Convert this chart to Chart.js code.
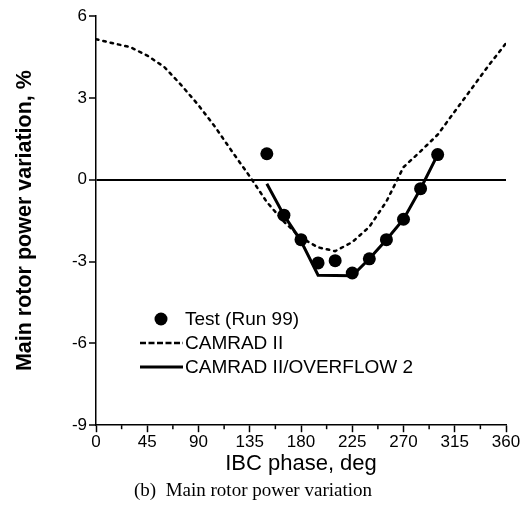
<!DOCTYPE html>
<html>
<head>
<meta charset="utf-8">
<script src="https://cdn.jsdelivr.net/npm/chart.js@4.4.1/dist/chart.umd.min.js"></script>
<style>
  html, body { margin: 0; padding: 0; background: #fff; }
  #wrap { width: 526px; height: 508px; }
</style>
</head>
<body>
<div id="wrap"><canvas id="power-chart"></canvas></div>
<script>
const phaseTicks = [0, 45, 90, 135, 180, 225, 270, 315, 360];
const phaseMinor = [22.5, 67.5, 112.5, 157.5, 202.5, 247.5, 292.5, 337.5];
const powerTicks = [-9, -6, -3, 0, 3, 6];

// Test (Run 99)
const testPhase = [150, 165, 180, 195, 210, 225, 240, 255, 270, 285, 300];
const testPower = [0.95, -1.3, -2.2, -3.05, -2.97, -3.42, -2.9, -2.2, -1.45, -0.33, 0.92];

// CAMRAD II
const camradPhase = [0, 15, 30, 45, 60, 75, 90, 105, 120, 135, 150, 165, 180,
    195, 210, 225, 240, 255, 270, 285, 300, 315, 330, 345, 360];
const camradPower = [5.15, 5.0, 4.86, 4.55, 4.13, 3.46, 2.73, 1.91, 1.0, 0.12, -0.82, -1.54, -2.13,
    -2.48, -2.62, -2.29, -1.73, -0.8, 0.46, 1.04, 1.65, 2.5, 3.35, 4.2, 5.0];

// CAMRAD II/OVERFLOW 2
const overflowPhase = [150, 165, 180, 195, 210, 225, 240, 255, 270, 285, 300];
const overflowPower = [-0.15, -1.3, -2.25, -3.5, -3.51, -3.52, -2.9, -2.2, -1.45, -0.33, 0.92];

const sans = "'Liberation Sans', Arial, sans-serif";

const toPoints = (xs, ys) => xs.map((x, i) => ({ x: x, y: ys[i] }));

// minor ticks on the phase axis
const minorTicks = {
    id: 'minorTicks',
    afterDraw(chart) {
        const ctx = chart.ctx;
        const x = chart.scales.x;
        const bottom = chart.chartArea.bottom;
        ctx.save();
        ctx.strokeStyle = '#000';
        ctx.lineWidth = 1.5;
        phaseMinor.forEach(v => {
            const px = x.getPixelForValue(v);
            ctx.beginPath();
            ctx.moveTo(px, bottom);
            ctx.lineTo(px, bottom + 4);
            ctx.stroke();
        });
        ctx.restore();
    }
};

// legend drawn inside the plot, lower left
const insideLegend = {
    id: 'insideLegend',
    afterDatasetsDraw(chart, args, opts) {
        const ctx = chart.ctx;
        ctx.save();
        ctx.font = opts.font;
        ctx.textBaseline = 'middle';
        ctx.fillStyle = '#000';
        chart.data.datasets.forEach((ds, i) => {
            const y = opts.y + i * opts.rowHeight;
            if (ds.showLine === false) {
                ctx.beginPath();
                ctx.arc(opts.markerX, y, ds.pointRadius, 0, Math.PI * 2);
                ctx.fill();
            } else {
                ctx.strokeStyle = ds.borderColor;
                ctx.lineWidth = ds.borderWidth;
                ctx.setLineDash(ds.borderDash ? opts.dash : []);
                ctx.beginPath();
                ctx.moveTo(opts.lineX0, y);
                ctx.lineTo(opts.lineX1, y);
                ctx.stroke();
                ctx.setLineDash([]);
            }
            ctx.fillText(ds.label, opts.textX, y + 1);
        });
        ctx.restore();
    }
};

new Chart(document.getElementById('power-chart'), {
    type: 'line',
    data: {
        datasets: [{
            label: 'Test (Run 99)',
            data: toPoints(testPhase, testPower),
            showLine: false,
            pointRadius: 6.5,
            pointBackgroundColor: '#000',
            pointBorderWidth: 0,
            borderColor: '#000'
        }, {
            label: 'CAMRAD II',
            data: toPoints(camradPhase, camradPower),
            borderColor: '#000',
            borderWidth: 2.5,
            borderDash: [2.5, 5],
            borderCapStyle: 'round',
            pointRadius: 0,
            tension: 0
        }, {
            label: 'CAMRAD II/OVERFLOW 2',
            data: toPoints(overflowPhase, overflowPower),
            borderColor: '#000',
            borderWidth: 3,
            pointRadius: 0,
            tension: 0
        }]
    },
    options: {
        responsive: true,
        maintainAspectRatio: false,
        animation: false,
        layout: { padding: { top: 16, right: 20, left: 0, bottom: 0 } },
        scales: {
            x: {
                type: 'linear',
                min: 0,
                max: 360,
                afterBuildTicks: s => { s.ticks = phaseTicks.map(v => ({ value: v })); },
                afterFit: s => { s.height = 52; },
                ticks: { color: '#000', font: { family: sans, size: 17 }, padding: 0, maxRotation: 0 },
                grid: { drawOnChartArea: false, tickLength: 7, tickColor: '#000', tickWidth: 1.5 },
                border: { color: '#000', width: 1.5 },
                title: {
                    display: true,
                    text: 'IBC phase, deg',
                    color: '#000',
                    font: { family: sans, size: 22 },
                    padding: 0
                }
            },
            y: {
                min: -9,
                max: 6,
                afterBuildTicks: s => { s.ticks = powerTicks.map(v => ({ value: v })); },
                afterFit: s => { s.width = 96; },
                ticks: { color: '#000', font: { family: sans, size: 17 }, padding: 2 },
                grid: {
                    color: c => (c.tick && c.tick.value === 0 ? '#000' : 'rgba(0,0,0,0)'),
                    lineWidth: 2,
                    tickLength: 7,
                    tickColor: '#000',
                    tickWidth: 1.5
                },
                border: { color: '#000', width: 1.5 },
                title: {
                    display: true,
                    text: 'Main rotor power variation, %',
                    color: '#000',
                    font: { family: sans, size: 21.5, weight: 'bold' },
                    padding: { top: 12, bottom: 0 }
                }
            }
        },
        plugins: {
            legend: { display: false },
            tooltip: { enabled: false },
            title: {
                display: true,
                position: 'bottom',
                text: '(b)  Main rotor power variation',
                color: '#000',
                font: { family: "'Liberation Serif', 'Times New Roman', serif", size: 19, weight: 'normal' },
                padding: { top: 2, bottom: 6 }
            },
            insideLegend: {
                font: '19px ' + sans,
                y: 319,
                rowHeight: 24,
                markerX: 161,
                lineX0: 140,
                lineX1: 183,
                textX: 185,
                dash: [6, 2.5]
            }
        }
    },
    plugins: [minorTicks, insideLegend]
});
</script>
</body>
</html>
